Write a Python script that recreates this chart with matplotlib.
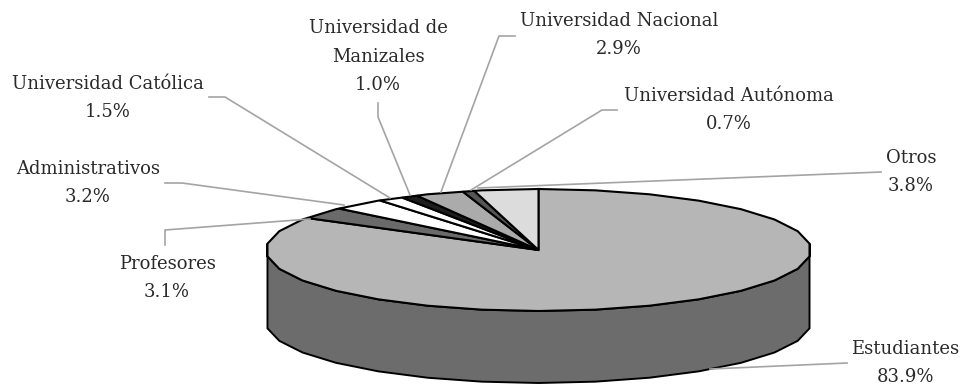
import matplotlib
matplotlib.use('Agg')
import matplotlib.pyplot as plt
import numpy as np

# Sample data
categories = ['Estudiantes', 'Profesores', 'Administrativos', 'Universidad Católica',
              'Universidad de\nManizales', 'Universidad Nacional', 'Universidad Autónoma', 'Otros']
values = [83.9, 3.1, 3.2, 1.5, 1.0, 2.9, 0.7, 3.8]
colors = ['#b6b6b6', '#6a6a6a', '#ffffff', '#ffffff', '#1e1e1e', '#ababab', '#555555', '#dcdcdc']

# label text centre positions, in pixels of the picture
label_pos = [(905, 363), (167, 278), (88, 183), (108, 98), (378, 56.5), (619, 35), (729, 110), (911, 172)]

# leader lines
leaders = [
    [(847, 363), (710, 369)],
    [(165, 245), (165, 230), (310, 219)],
    [(165, 183), (182, 183), (344, 205)],
    [(209, 97), (225, 97), (390, 198)],
    [(378, 103), (378, 117), (410, 195)],
    [(515, 36), (499, 36), (441, 192)],
    [(617, 110), (602, 110), (471, 190)],
    [(881, 172), (478, 188)],
]

cx, cy = 538.5, 250
rx, ry = 272.5, 61
depth = 72

fig = plt.figure(figsize=(9.61, 3.85), dpi=100)
ax = fig.add_axes([0, 0, 1, 1])
ax.set_xlim(0, 961)
ax.set_ylim(385, 0)
ax.axis('off')

# the outline of the original is faceted, one vertex every 12 degrees
knots = np.radians(np.arange(0, 361, 12))
knot_x = cx + rx * np.sin(knots)
knot_y = cy - ry * np.cos(knots)


def rim(a):
    # angle is clockwise from 12 o'clock
    return np.interp(a, knots, knot_x), np.interp(a, knots, knot_y)


def arc(a0, a1):
    inner = knots[(knots > a0) & (knots < a1)]
    return rim(np.r_[a0, inner, a1])


# side of the cake
x, y = arc(np.radians(84), np.radians(276))
ax.fill(np.r_[x, x[::-1]], np.r_[y, y[::-1] + depth], fc='#6c6c6c', ec='black', lw=1.4, zorder=1)

# top slices
fractions = np.array(values) / sum(values)
edges = np.r_[0, np.cumsum(fractions)] * 2 * np.pi
for i in range(len(values)):
    x, y = arc(edges[i], edges[i + 1])
    ax.fill(np.r_[cx, x], np.r_[cy, y], fc=colors[i], ec='black', lw=1.5, zorder=2)

for line in leaders:
    pts = np.array(line)
    ax.plot(pts[:, 0], pts[:, 1], color='#a4a4a4', lw=1.2, zorder=3)

for name, val, pos in zip(categories, values, label_pos):
    ax.text(pos[0], pos[1], f'{name}\n{val:.1f}%', ha='center', va='center', ma='center',
            family='DejaVu Serif', fontsize=13, color='#2a2a2a', linespacing=1.75)

plt.savefig('out.png', dpi=100)
